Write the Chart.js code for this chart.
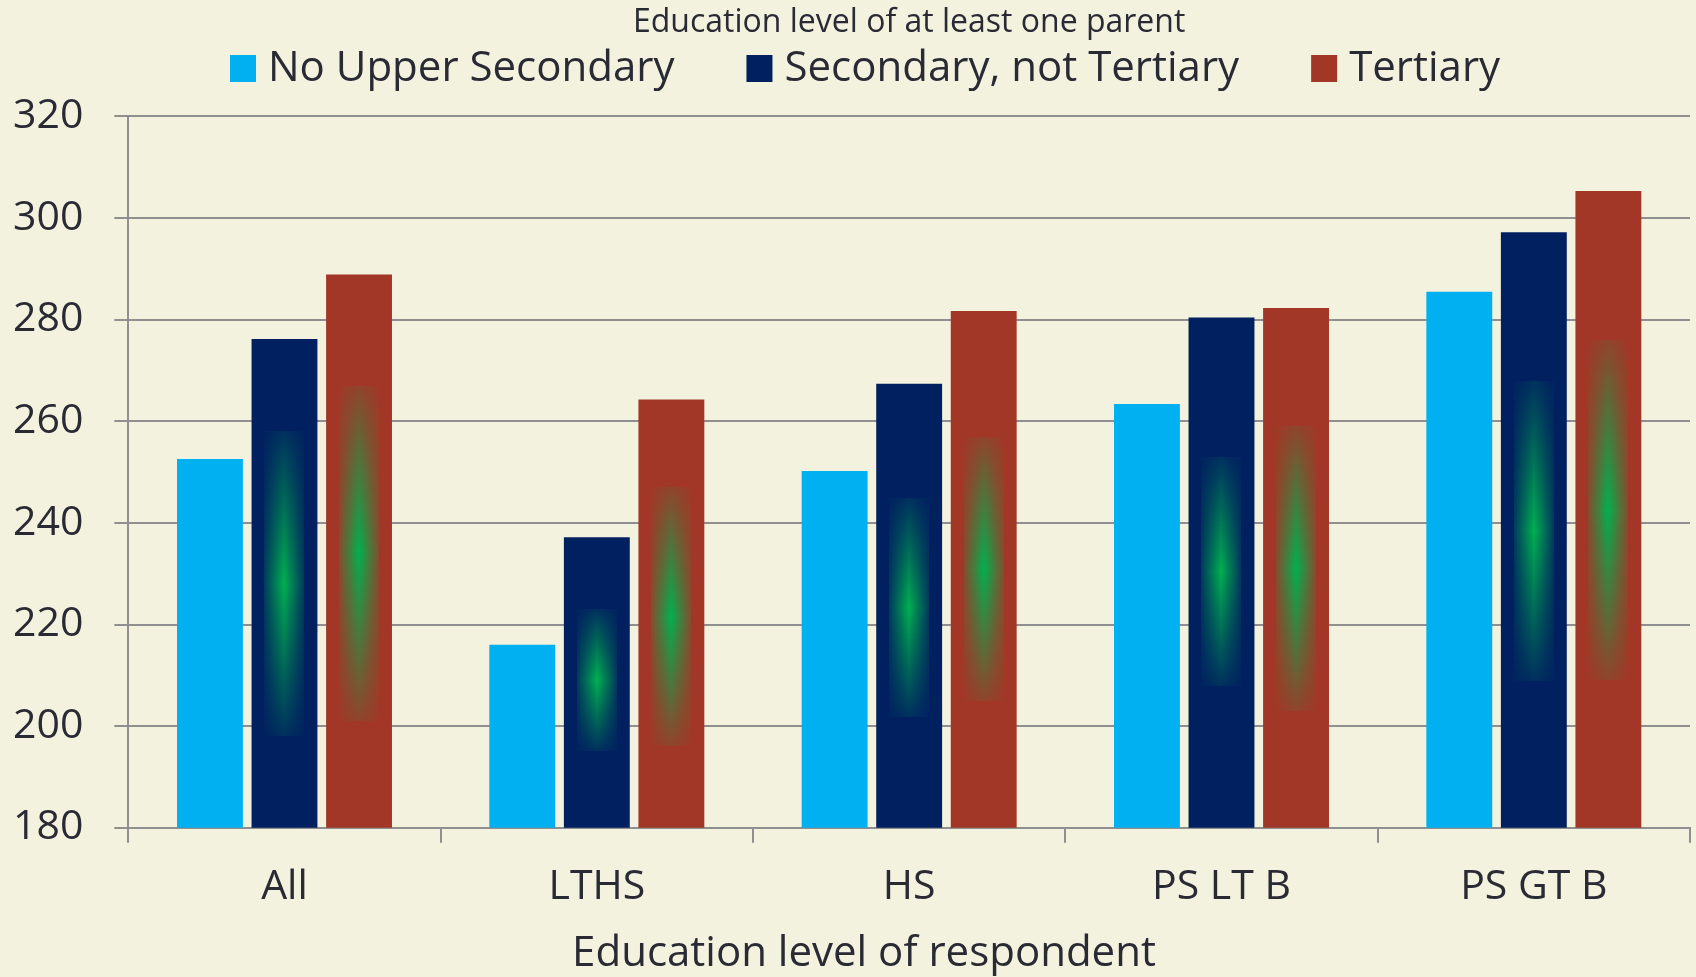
<!DOCTYPE html>
<html>
<head>
<meta charset="utf-8">
<title>Education level of at least one parent</title>
<script src="https://cdn.jsdelivr.net/npm/chart.js@4.4.1/dist/chart.umd.min.js"></script>
<style>
    html, body { margin: 0; padding: 0; background: #F3F2DE; }
    #wrap { width: 1696px; height: 977px; }
</style>
</head>
<body>
<div id="wrap"><canvas id="eduChart" width="1696" height="977"></canvas></div>
<script>
// Scores by respondent's education, split by parents' education
const categories = ['All', 'LTHS', 'HS', 'PS LT B', 'PS GT B'];
const seriesNames = ['No Upper Secondary', 'Secondary, not Tertiary', 'Tertiary'];
const noUpperSecondary = [252.6, 216.0, 250.2, 263.4, 285.5];
const secondaryNotTertiary = [276.2, 237.2, 267.4, 280.4, 297.2];
const tertiary = [288.9, 264.3, 281.7, 282.3, 305.3];
const yMin = 180;
const yMax = 320;
const yStep = 20;

// value range (low, high) of the green glow inside the darker bars
const secondaryGlow = [[198, 258], [195, 223], [202, 245], [208, 253], [209, 268]];
const tertiaryGlow = [[201, 267], [196, 247], [205, 257], [203, 259], [209, 276]];

const colors = ['#00B0F0', '#002060', '#A33727'];
const textColor = '#2a2a35';
const gridColor = '#8f8f8f';
const fontFamily = '"Open Sans", "Noto Sans", sans-serif';

const background = {
    id: 'background',
    beforeDraw(chart) {
        const ctx = chart.ctx;
        ctx.save();
        ctx.fillStyle = '#F3F2DE';
        ctx.fillRect(0, 0, chart.width, chart.height);
        ctx.restore();
    }
};

// soft green glow painted inside each bar of datasets 1 and 2
const barGlow = {
    id: 'barGlow',
    afterDatasetsDraw(chart) {
        const ctx = chart.ctx;
        const yScale = chart.scales.y;
        const glows = { 1: secondaryGlow, 2: tertiaryGlow };
        Object.keys(glows).forEach(function (di) {
            const meta = chart.getDatasetMeta(Number(di));
            meta.data.forEach(function (bar, i) {
                const range = glows[di][i];
                const top = yScale.getPixelForValue(range[1]);
                const bottom = yScale.getPixelForValue(range[0]);
                const w = Math.round(bar.width * 0.6);
                const h = Math.round(bottom - top);
                const off = document.createElement('canvas');
                off.width = w;
                off.height = h;
                const o = off.getContext('2d');
                const vg = o.createLinearGradient(0, 0, 0, h);
                vg.addColorStop(0, 'rgba(0,176,80,0.12)');
                vg.addColorStop(0.5, 'rgba(0,176,80,1)');
                vg.addColorStop(1, 'rgba(0,176,80,0.12)');
                o.fillStyle = vg;
                o.fillRect(0, 0, w, h);
                o.globalCompositeOperation = 'destination-in';
                const hg = o.createLinearGradient(0, 0, w, 0);
                hg.addColorStop(0, 'rgba(0,0,0,0.18)');
                hg.addColorStop(0.5, 'rgba(0,0,0,1)');
                hg.addColorStop(1, 'rgba(0,0,0,0.18)');
                o.fillStyle = hg;
                o.fillRect(0, 0, w, h);
                ctx.drawImage(off, Math.round(bar.x - w / 2), Math.round(top));
            });
        });
    }
};

// legend row and x axis caption
const captions = {
    id: 'captions',
    afterDraw(chart) {
        const ctx = chart.ctx;
        ctx.save();
        ctx.font = '42px ' + fontFamily;
        ctx.textBaseline = 'middle';
        ctx.textAlign = 'left';
        let x = 230;
        seriesNames.forEach(function (name, i) {
            ctx.fillStyle = colors[i];
            ctx.fillRect(x, 55, 26, 27);
            ctx.fillStyle = textColor;
            ctx.fillText(name, x + 26 + 12, 69);
            x += 26 + 12 + ctx.measureText(name).width + 72;
        });
        ctx.textAlign = 'center';
        ctx.fillText('Education level of respondent', 864, 954);
        ctx.restore();
    }
};

const ctx = document.getElementById('eduChart').getContext('2d');
const eduChart = new Chart(ctx, {
    type: 'bar',
    data: {
        labels: categories,
        datasets: [{
            label: seriesNames[0],
            data: noUpperSecondary,
            backgroundColor: colors[0]
        }, {
            label: seriesNames[1],
            data: secondaryNotTertiary,
            backgroundColor: colors[1]
        }, {
            label: seriesNames[2],
            data: tertiary,
            backgroundColor: colors[2]
        }]
    },
    options: {
        responsive: false,
        animation: false,
        devicePixelRatio: 1,
        categoryPercentage: 0.716,
        barPercentage: 0.884,
        layout: {
            padding: { left: -18, right: 6, bottom: 45, top: 0 }
        },
        scales: {
            x: {
                grid: {
                    display: true,
                    drawOnChartArea: false,
                    color: gridColor,
                    lineWidth: 2,
                    tickLength: 15
                },
                border: { display: true, color: gridColor, width: 2 },
                ticks: {
                    color: textColor,
                    padding: 20,
                    font: { family: fontFamily, size: 41 }
                }
            },
            y: {
                min: yMin,
                max: yMax,
                grid: {
                    color: gridColor,
                    lineWidth: 2,
                    tickLength: 14
                },
                border: { display: true, color: gridColor, width: 2 },
                ticks: {
                    stepSize: yStep,
                    color: textColor,
                    padding: 31,
                    font: { family: fontFamily, size: 41 }
                }
            }
        },
        plugins: {
            legend: { display: false },
            tooltip: { enabled: false },
            title: {
                display: true,
                fullSize: false,
                text: 'Education level of at least one parent',
                color: textColor,
                font: { family: fontFamily, size: 32, weight: 'normal', lineHeight: 1.2 },
                padding: { top: 4, bottom: 74 }
            }
        }
    },
    plugins: [background, barGlow, captions]
});
</script>
</body>
</html>
